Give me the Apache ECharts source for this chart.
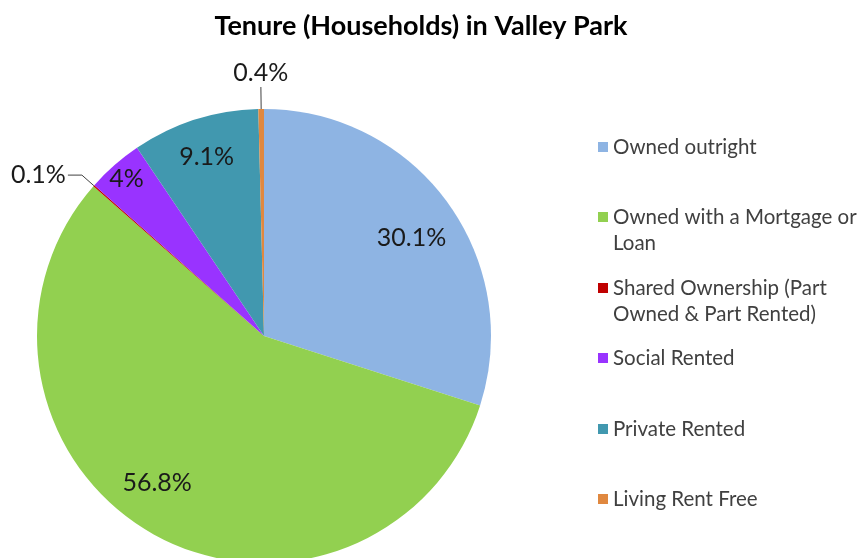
<!DOCTYPE html>
<html>
<head>
<meta charset="utf-8">
<script src="https://cdn.jsdelivr.net/npm/echarts@6/dist/echarts.min.js"></script>
<style>
  html, body { margin: 0; padding: 0; background: #fff; }
  #chart { width: 865px; height: 558px; }
</style>
</head>
<body>
<div id="chart"></div>
<script>
  // data
  var categories = [
    'Owned outright',
    'Owned with a Mortgage or Loan',
    'Shared Ownership (Part Owned & Part Rented)',
    'Social Rented',
    'Private Rented',
    'Living Rent Free'
  ];
  var values = [30.1, 56.8, 0.1, 4, 9.1, 0.4];
  var colors = ['#8eb4e3', '#92d050', '#c00000', '#9933ff', '#4198af', '#e0883f'];
  // how the legend wraps the longer names
  var legendText = {
    'Owned with a Mortgage or Loan': 'Owned with a Mortgage or\nLoan',
    'Shared Ownership (Part Owned & Part Rented)': 'Shared Ownership (Part\nOwned & Part Rented)'
  };

  var FONT = 'Lato';
  var cx = 264, cy = 336, R = 227;
  // label placement: fraction of radius for inside labels, null = outside with leader line
  var labelRadius = [0.78, 0.80, null, 0.92, 0.83, null];
  // small turn (degrees) off the slice middle, like Excel's best-fit labels
  var labelTurn = [2.5, 6.5, 0, 0, 0, 0];

  var total = values.reduce(function (a, b) { return a + b; }, 0);
  function midAngle(i) {
    var before = 0;
    for (var k = 0; k < i; k++) before += values[k];
    return (before + values[i] / 2) / total * Math.PI * 2;
  }
  function polar(a, r) {
    return [cx + r * Math.sin(a), cy - r * Math.cos(a)];
  }

  var chart = echarts.init(document.getElementById('chart'));

  // one legend per row so rows keep an even pitch; extra empty lines on top
  // keep the icon level with the first line of wrapped names
  var legends = categories.map(function (name, i) {
    var lines = (legendText[name] || name).split('\n').length;
    return {
      data: [name],
      orient: 'vertical',
      left: 598,
      top: Math.round(147 + i * 70.4 - 13 - 26 * (lines - 1)),
      padding: 0,
      icon: 'rect',
      itemWidth: 10,
      itemHeight: 10,
      selectedMode: false,
      formatter: function (n) {
        var t = legendText[n] || n;
        var extra = t.split('\n').length - 1;
        return new Array(extra + 1).join(' \n') + t;
      },
      textStyle: { fontFamily: FONT, fontSize: 20.5, color: '#404040', lineHeight: 26 }
    };
  });

  chart.setOption({
    animation: false,
    color: colors,
    title: {
      text: 'Tenure (Households) in Valley Park',
      left: 416,
      top: 8,
      textAlign: 'center',
      textStyle: { fontFamily: FONT, fontSize: 27, fontWeight: 'bold', color: '#000' }
    },
    legend: legends,
    series: [{
      type: 'pie',
      center: [cx, cy],
      radius: R,
      startAngle: 90,
      clockwise: true,
      avoidLabelOverlap: false,
      data: categories.map(function (name, i) {
        return {
          name: name,
          value: values[i],
          labelLine: { show: labelRadius[i] === null }
        };
      }),
      label: {
        show: true,
        position: 'outside',
        formatter: '{c}%',
        fontFamily: FONT,
        fontSize: 25,
        color: '#1a1a1a'
      },
      labelLine: { show: true, lineStyle: { color: '#404040', width: 1 } },
      labelLayout: function (p) {
        var i = p.dataIndex;
        var a = midAngle(i);
        if (labelRadius[i] !== null) {
          var pt = polar(a + labelTurn[i] * Math.PI / 180, R * labelRadius[i]);
          return { x: pt[0], y: pt[1], align: 'center', verticalAlign: 'middle' };
        }
        var p0 = polar(a, R);
        if (i === 5) {
          var p1 = polar(a, R + 22);
          var lp = polar(a, R + 37);
          return {
            x: lp[0], y: lp[1] + 1, align: 'center', verticalAlign: 'middle',
            labelLinePoints: [p0, p1, p1]
          };
        }
        var q1 = polar(a, R + 16);
        var q2 = [q1[0] - 14, q1[1]];
        return {
          x: q2[0] - 2, y: q2[1], align: 'right', verticalAlign: 'middle',
          labelLinePoints: [p0, q1, q2]
        };
      }
    }]
  });
</script>
</body>
</html>
